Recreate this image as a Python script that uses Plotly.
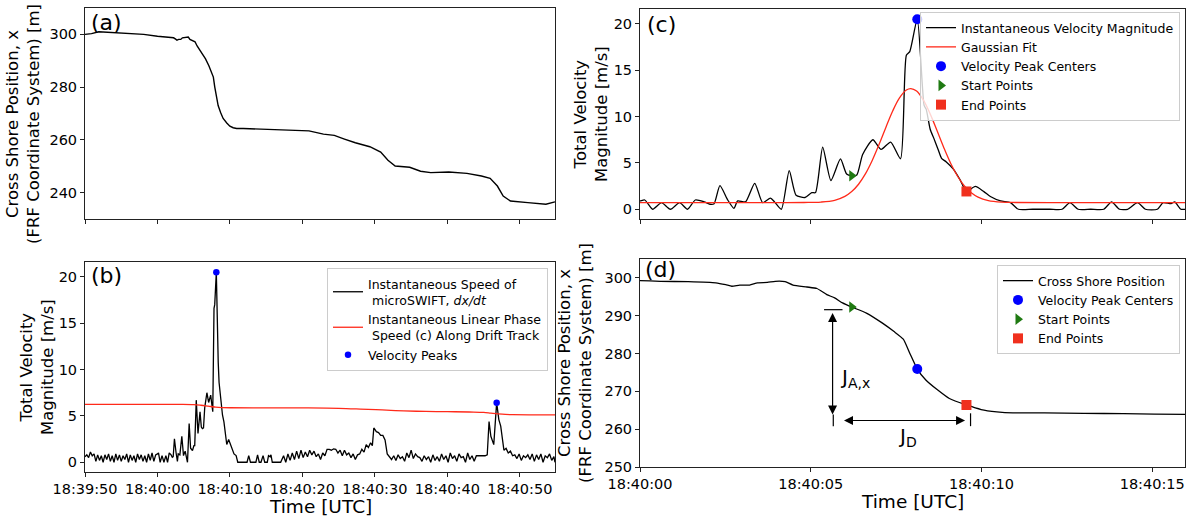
import pandas as pd
import plotly.graph_objects as go

# Reference time of the record; all times below are seconds after 18:40:00 UTC
T0 = pd.Timestamp("2021-10-21 18:40:00")

# ---------------- cross-shore position of the drifter ----------------
pos_sec = [-10.0, -9.1, -8.1, -6.9, -4.9, -1.9, 0.0, 0.6, 1.41, 2.22, 2.51, 2.69,
           2.92, 3.21, 3.44, 3.73, 3.96, 4.25, 4.48, 4.89, 5.18, 5.47, 5.7, 5.93,
           6.2, 6.63, 7.09, 7.44, 7.71, 7.9, 8.12, 8.37, 8.71, 9.06, 9.56, 9.99,
           10.45, 10.92, 11.84, 13.0, 14.16, 15.96, 17.5, 19.4, 20.9, 22.9, 24.4,
           25.8, 27.3, 29.3, 30.8, 31.8, 32.8, 34.8, 36.3, 37.7, 40.2, 42.7, 44.7,
           45.9, 46.9, 47.7, 48.7, 51.1, 53.6, 54.85]
pos_x = [300.0, 300.3, 301.0, 300.8, 300.5, 300.0, 299.3, 299.1, 299.0, 298.7, 298.2,
         297.8, 298.1, 298.1, 298.7, 298.8, 299.1, 299.0, 298.1, 297.6, 297.2, 295.6,
         294.7, 293.4, 292.3, 290.7, 288.1, 285.8, 283.8, 280.1, 275.9, 273.0, 270.4,
         268.1, 266.4, 265.2, 264.6, 264.3, 264.3, 264.2, 264.1, 263.9, 263.9, 263.8,
         263.4, 262.2, 261.7, 260.3, 258.9, 257.4, 255.4, 252.3, 250.1, 249.6, 248.1,
         247.6, 247.8, 247.3, 246.3, 245.4, 242.5, 238.7, 236.8, 236.2, 235.6, 236.5]

# ---------------- instantaneous speed of the drifter ----------------
speed_sec = [
    -10.0, -9.75, -9.5, -9.25, -9.0, -8.75, -8.5, -8.25, -8.0, -7.75, -7.5, -7.25,
    -7.0, -6.75, -6.5, -6.25, -6.0, -5.75, -5.5, -5.25, -5.0, -4.75, -4.5, -4.25,
    -4.0, -3.75, -3.5, -3.25, -3.0, -2.75, -2.5, -2.25, -2.0, -1.75, -1.5, -1.25,
    -1.0, -0.75, -0.5, -0.25,
    0.0, 0.14, 0.37, 0.63, 0.89, 1.16, 1.39, 1.62, 1.88, 2.05, 2.17, 2.34, 2.57,
    2.75, 2.86, 3.09, 3.36, 3.59, 3.82, 3.94, 4.14, 4.37, 4.57, 4.83, 5.03, 5.14,
    5.35, 5.59, 5.87, 6.05, 6.2, 6.35, 6.52, 6.82, 7.06, 7.34, 7.63, 7.8, 7.9,
    8.12, 8.32, 8.38, 8.5, 8.6, 8.73, 8.83, 8.97, 9.17, 9.37, 9.56, 9.82, 10.07,
    10.26, 10.56, 10.85, 11.08, 11.5, 12.0, 12.36, 12.59, 12.83, 13.2, 13.58,
    13.81, 14.04, 14.28, 14.57, 14.8, 15.15, 15.32, 15.55, 15.66, 15.84,
    16.0, 16.5, 17.0, 17.4, 17.7, 18.0, 18.3, 18.6, 18.9, 19.2, 19.5, 19.8, 20.1,
    20.4, 20.7, 21.0, 21.3, 21.6, 21.9, 22.2, 22.5, 22.8, 23.1, 23.4, 23.7, 24.0,
    24.3, 24.6, 24.9, 25.2, 25.5, 25.8, 26.1, 26.4, 26.7, 27.0, 27.3, 27.6, 27.9,
    28.2, 28.5, 28.8, 29.1, 29.4, 29.65, 29.85, 30.2, 30.5, 30.8, 31.1, 31.4,
    31.7, 32.0, 32.3, 32.6, 32.9, 33.2, 33.5, 33.8, 34.1, 34.4, 34.7, 35.0, 35.3,
    35.6, 35.9, 36.2, 36.5, 36.8, 37.1, 37.4, 37.7, 38.0, 38.3, 38.6, 38.9, 39.2,
    39.5, 39.8, 40.1, 40.4, 40.7, 41.0, 41.3, 41.6, 41.9, 42.2, 42.5, 42.8, 43.1,
    43.4, 43.7, 44.0, 44.4, 44.8, 45.2, 45.5, 45.75, 46.0, 46.4, 46.8, 47.1,
    47.36, 47.6, 47.8, 48.1, 48.4, 48.7, 49.0, 49.3, 49.6, 49.9, 50.2, 50.5,
    50.8, 51.1, 51.4, 51.7, 52.0, 52.3, 52.6, 52.9, 53.2, 53.5, 53.8, 54.1,
    54.4, 54.7, 54.85]
speed_val = [
    0.6, 0.8, 0.5, 1.1, 0.7, 0.9, 0.1, 0.8, 0.2, 0.7, 0.0, 0.8,
    0.3, 0.9, 0.1, 0.7, 0.0, 0.9, 0.2, 0.8, 0.1, 0.7, 0.3, 0.9,
    0.0, 0.8, 0.2, 0.7, 0.0, 0.9, 0.3, 0.8, 0.1, 0.7, 0.0, 0.9,
    0.2, 1.0, 0.1, 0.8,
    0.9, 1.0, 0.0, 0.72, 0.0, 0.72, 0.0, 1.0, 0.8, 0.54, 0.6, 2.54, 1.0,
    0.1, 0.9, 0.8, 2.8, 0.72, 1.2, 0.8, 0.0, 4.17, 1.52, 1.27, 1.8, 1.8,
    6.7, 3.1, 5.43, 3.8, 3.62, 3.7, 5.9, 7.5, 6.45, 7.25, 5.45, 16.6, 17.0,
    20.5, 11.2, 10.8, 8.6, 7.7, 6.45, 5.5, 5.1, 4.35, 3.2, 1.92, 2.46, 1.9,
    1.38, 0.9, 0.72, 0.0, 0.0, 0.0, 0.0, 0.72, 0.0, 0.0, 0.0,
    0.8, 0.0, 0.0, 0.72, 0.0, 0.0, 0.72, 0.6, 0.8, 0.0,
    0.0, 0.0, 0.0, 0.7, 0.0, 0.9, 0.2, 1.0, 0.3, 1.2, 0.4, 1.3, 0.5,
    1.1, 0.6, 1.3, 0.8, 1.2, 0.6, 0.9, 0.3, 1.0, 0.7, 1.4, 1.4, 1.3,
    1.45, 1.4, 1.0, 1.3, 0.7, 1.3, 0.8, 1.0, 0.5, 0.9, 0.3, 0.8, 0.9,
    1.4, 1.1, 1.9, 1.6, 2.1, 1.8, 3.7, 3.3, 3.2, 2.9, 2.9, 2.4,
    0.9, 0.6, 0.3, 0.7, 0.2, 0.8, 0.4, 0.6, 0.1, 1.0, 0.5, 1.3, 0.4,
    0.9, 0.6, 0.5, 0.1, 0.7, 0.3, 0.6, 0.0, 0.8, 0.2, 0.6, 0.1, 0.9,
    0.3, 0.7, 0.0, 1.0, 0.4, 0.7, 0.1, 0.9, 0.5, 0.6, 0.0, 1.0, 0.3,
    0.7, 0.1, 0.7, 0.7, 0.7, 0.7, 0.8, 4.4, 2.8, 1.9, 6.43, 4.6,
    3.9, 2.2, 1.3, 1.5, 1.0, 1.2, 0.7, 0.8, 0.4, 0.9, 0.2, 0.7,
    0.5, 0.8, 0.3, 0.9, 0.1, 0.8, 0.3, 0.9, 0.0, 0.7, 0.5, 0.9,
    0.2, 0.6, 0.0]

# ---------------- linear phase speed along the drift track ----------------
phase_sec = [-10.0, 3.0, 5.0, 6.0, 7.0, 8.0, 9.0, 10.0, 15.0, 20.0, 25.0, 28.0,
             31.0, 34.0, 37.0, 40.0, 43.0, 45.0, 46.0, 47.0, 48.0, 49.0, 52.0, 54.85]
phase_val = [6.25, 6.25, 6.22, 6.15, 6.05, 5.95, 5.9, 5.88, 5.87, 5.86, 5.82, 5.74,
             5.64, 5.54, 5.48, 5.46, 5.42, 5.38, 5.3, 5.22, 5.16, 5.13, 5.12, 5.12]

# detected velocity peaks
peak_sec = [8.12, 46.8]
peak_val = [20.5, 6.43]

# jump event: start, centre and end
start_sec, start_speed, start_x = [6.2], [3.62], [292.3]
center_sec, center_speed, center_x = [8.12], [20.5], [275.9]
end_sec, end_speed, end_x = [9.56], [1.92], [266.4]

# Gaussian fit to the velocity peak
gauss_sec = [0.0, 4.0, 4.8, 5.3, 5.7, 6.0, 6.2, 6.4, 6.6, 6.8, 7.0, 7.2, 7.4, 7.6,
             7.8, 7.93, 8.1, 8.3, 8.5, 8.7, 8.9, 9.1, 9.3, 9.5, 9.7, 9.9, 10.2,
             10.6, 11.0, 12.0, 15.96]
gauss_val = [0.72, 0.72, 0.73, 0.78, 0.97, 1.39, 1.91, 2.70, 3.81, 5.26, 6.98, 8.83,
             10.60, 12.01, 12.86, 13.02, 12.75, 11.77, 10.26, 8.46, 6.62, 4.94, 3.56,
             2.51, 1.78, 1.31, 0.94, 0.77, 0.73, 0.72, 0.72]

# jump amplitude / duration markers in panel (d)
amp_sec, amp_top, amp_bottom = 5.64, 291.15, 263.9
dur_sec_start, dur_sec_end, dur_level = 5.93, 9.52, 262.3

W, H = 1188, 518
FONT = "DejaVu Sans"
TICK = 14.5
LEG = 12.5
YTITLE = 16.5
XTITLE = 18.5


def ts(secs):
    return [T0 + pd.Timedelta(seconds=s) for s in secs]


def tstr(s):
    t = T0 + pd.Timedelta(seconds=s)
    return t.strftime("%Y-%m-%d %H:%M:%S") + ".%03d" % (t.microsecond // 1000)


def px_x(p):
    return p / W


def px_y(p):
    return 1 - p / H


# panel frames in pixels: left column, right column, rows
LX0, LX1 = 85, 555
RX0, RX1 = 640, 1185
A_Y = (8, 219)
B_Y = (262, 472)
C_Y = (9, 219)
D_Y = (259, 467)

dom_left = [px_x(LX0), px_x(LX1)]
dom_right = [px_x(RX0), px_x(RX1)]

fig = go.Figure()

# (a) position, full record
fig.add_trace(go.Scatter(x=ts(pos_sec), y=pos_x, mode="lines",
                         line=dict(color="black", width=1.4),
                         xaxis="x", yaxis="y", showlegend=False))

# (b) speed, phase speed, peaks
fig.add_trace(go.Scatter(x=ts(speed_sec), y=speed_val, mode="lines",
                         line=dict(color="black", width=1.3),
                         xaxis="x2", yaxis="y2", legend="legend",
                         name="Instantaneous Speed of<br>\u00a0microSWIFT, <i>dx/dt</i>"))
fig.add_trace(go.Scatter(x=ts(phase_sec), y=phase_val, mode="lines",
                         line=dict(color="#ff2a1a", width=1.3, shape="spline"),
                         xaxis="x2", yaxis="y2", legend="legend",
                         name="Instantaneous Linear Phase<br>\u00a0Speed (c) Along Drift Track"))
fig.add_trace(go.Scatter(x=ts(peak_sec), y=peak_val, mode="markers",
                         marker=dict(color="blue", size=6.5),
                         xaxis="x2", yaxis="y2", legend="legend",
                         name="Velocity Peaks"))

# (c) zoom on the velocity peak
fig.add_trace(go.Scatter(x=ts(speed_sec), y=speed_val, mode="lines",
                         line=dict(color="black", width=1.3, shape="spline", smoothing=0.6),
                         xaxis="x3", yaxis="y3", legend="legend2",
                         name="Instantaneous Velocity Magnitude"))
fig.add_trace(go.Scatter(x=ts(gauss_sec), y=gauss_val, mode="lines",
                         line=dict(color="#ff2a1a", width=1.3, shape="spline"),
                         xaxis="x3", yaxis="y3", legend="legend2", name="Gaussian Fit"))
fig.add_trace(go.Scatter(x=ts(center_sec), y=center_speed, mode="markers",
                         marker=dict(color="blue", size=10),
                         xaxis="x3", yaxis="y3", legend="legend2",
                         name="Velocity Peak Centers"))
fig.add_trace(go.Scatter(x=ts(start_sec), y=start_speed, mode="markers",
                         marker=dict(color="#1f7a12", size=10, symbol="triangle-right"),
                         xaxis="x3", yaxis="y3", legend="legend2", name="Start Points"))
fig.add_trace(go.Scatter(x=ts(end_sec), y=end_speed, mode="markers",
                         marker=dict(color="#f0301e", size=10, symbol="square"),
                         xaxis="x3", yaxis="y3", legend="legend2", name="End Points"))

# (d) zoom on the position jump
fig.add_trace(go.Scatter(x=ts(pos_sec), y=pos_x, mode="lines",
                         line=dict(color="black", width=1.3, shape="spline", smoothing=0.5),
                         xaxis="x4", yaxis="y4", legend="legend3",
                         name="Cross Shore Position"))
fig.add_trace(go.Scatter(x=ts(center_sec), y=center_x, mode="markers",
                         marker=dict(color="blue", size=10),
                         xaxis="x4", yaxis="y4", legend="legend3",
                         name="Velocity Peak Centers"))
fig.add_trace(go.Scatter(x=ts(start_sec), y=start_x, mode="markers",
                         marker=dict(color="#1f7a12", size=10, symbol="triangle-right"),
                         xaxis="x4", yaxis="y4", legend="legend3", name="Start Points"))
fig.add_trace(go.Scatter(x=ts(end_sec), y=end_x, mode="markers",
                         marker=dict(color="#f0301e", size=10, symbol="square"),
                         xaxis="x4", yaxis="y4", legend="legend3", name="End Points"))

axis_common = dict(showline=True, mirror=True, linecolor="#222", linewidth=1,
                   ticks="outside", ticklen=4, tickwidth=1, tickcolor="#222",
                   showgrid=False, zeroline=False, automargin=False,
                   tickfont=dict(family=FONT, size=TICK, color="black"))

left_range = [tstr(-10.0), tstr(54.85)]
right_range = [tstr(0.0), tstr(15.96)]

fig.update_layout(
    width=W, height=H,
    margin=dict(l=0, r=0, t=0, b=0),
    paper_bgcolor="white", plot_bgcolor="white",
    font=dict(family=FONT, color="black"),
    xaxis=dict(domain=dom_left, anchor="y", type="date", range=left_range,
               tick0=tstr(-10.0), dtick=10000, showticklabels=False, **axis_common),
    yaxis=dict(domain=[px_y(A_Y[1]), px_y(A_Y[0])], anchor="x", range=[230, 310],
               tickvals=[240, 260, 280, 300], **axis_common),
    xaxis2=dict(domain=dom_left, anchor="y2", type="date", range=left_range,
                tick0=tstr(-10.0), dtick=10000, tickformat="%H:%M:%S", **axis_common),
    yaxis2=dict(domain=[px_y(B_Y[1]), px_y(B_Y[0])], anchor="x2", range=[-1.05, 21.6],
                tickvals=[0, 5, 10, 15, 20], **axis_common),
    xaxis3=dict(domain=dom_right, anchor="y3", type="date", range=right_range,
                tick0=tstr(0.0), dtick=5000, showticklabels=False, **axis_common),
    yaxis3=dict(domain=[px_y(C_Y[1]), px_y(C_Y[0])], anchor="x3", range=[-1.05, 21.6],
                tickvals=[0, 5, 10, 15, 20], **axis_common),
    xaxis4=dict(domain=dom_right, anchor="y4", type="date", range=right_range,
                tick0=tstr(0.0), dtick=5000, tickformat="%H:%M:%S", **axis_common),
    yaxis4=dict(domain=[px_y(D_Y[1]), px_y(D_Y[0])], anchor="x4", range=[250, 305],
                tickvals=[250, 260, 270, 280, 290, 300], **axis_common),
)

legend_common = dict(bgcolor="rgba(255,255,255,0.8)", bordercolor="#cccccc", borderwidth=1,
                     font=dict(family=FONT, size=LEG, color="black"),
                     xanchor="right", yanchor="top", itemwidth=30, tracegroupgap=0)
fig.update_layout(
    legend=dict(x=px_x(548), y=px_y(268), **legend_common),
    legend2=dict(x=px_x(1180), y=px_y(12), **legend_common),
    legend3=dict(x=px_x(1180), y=px_y(265), **legend_common),
)

annotations = []
# panel letters
for label, xp, yp in [("(a)", 89, 8), ("(b)", 89, 261), ("(c)", 645, 10), ("(d)", 643, 255)]:
    annotations.append(dict(text=label, x=px_x(xp), y=px_y(yp), xref="paper", yref="paper",
                            xanchor="left", yanchor="top", showarrow=False,
                            font=dict(family=FONT, size=22, color="black")))
# axis titles
ytitles = [
    ("Cross Shore Position, x<br>(FRF Coordinate System) [m]", LX0 - 62, 124),
    ("Total Velocity<br>Magnitude [m/s]", LX0 - 48, sum(B_Y) / 2),
    ("Total Velocity<br>Magnitude [m/s]", RX0 - 49, sum(C_Y) / 2),
    ("Cross Shore Position, x<br>(FRF Coordinate System) [m]", RX0 - 65, sum(D_Y) / 2),
]
for text, xp, yp in ytitles:
    annotations.append(dict(text=text, x=px_x(xp), y=px_y(yp), xref="paper", yref="paper",
                            xanchor="center", yanchor="middle", textangle=-90,
                            showarrow=False, align="center",
                            font=dict(family=FONT, size=YTITLE, color="black")))
for xp, yp in [((LX0 + LX1) / 2, 506), ((RX0 + RX1) / 2, 501)]:
    annotations.append(dict(text="Time [UTC]", x=px_x(xp), y=px_y(yp), xref="paper",
                            yref="paper", xanchor="center", yanchor="middle",
                            showarrow=False, font=dict(family=FONT, size=XTITLE, color="black")))

# amplitude (vertical) and duration (horizontal) double arrows in (d)
arrow_common = dict(xref="x4", yref="y4", axref="x4", ayref="y4", text="", showarrow=True,
                    arrowside="end+start", arrowhead=2, startarrowhead=2,
                    arrowsize=1.5, startarrowsize=1.5, arrowwidth=1.2, arrowcolor="black")
annotations.append(dict(x=tstr(amp_sec), y=amp_bottom, ax=tstr(amp_sec), ay=amp_top,
                        **arrow_common))
annotations.append(dict(x=tstr(dur_sec_end), y=dur_level, ax=tstr(dur_sec_start),
                        ay=dur_level, **arrow_common))
annotations.append(dict(text="J<sub>A,x</sub>", x=tstr(5.8), y=273.5, xref="x4", yref="y4",
                        xanchor="left", yanchor="middle", showarrow=False,
                        font=dict(family=FONT, size=20, color="black")))
annotations.append(dict(text="J<sub>D</sub>", x=tstr(7.5), y=258.0, xref="x4", yref="y4",
                        xanchor="left", yanchor="middle", showarrow=False,
                        font=dict(family=FONT, size=20, color="black")))
fig.update_layout(annotations=annotations)

# end caps of the J markers
caps = [
    (5.39, 291.6, 5.93, 291.6),
    (5.66, 263.9, 5.66, 260.8),
    (9.68, 264.2, 9.68, 260.8),
]
for x0, y0, x1, y1 in caps:
    fig.add_shape(type="line", xref="x4", yref="y4", x0=tstr(x0), y0=y0, x1=tstr(x1), y1=y1,
                  line=dict(color="black", width=1.2))

fig.write_html("out.html")
